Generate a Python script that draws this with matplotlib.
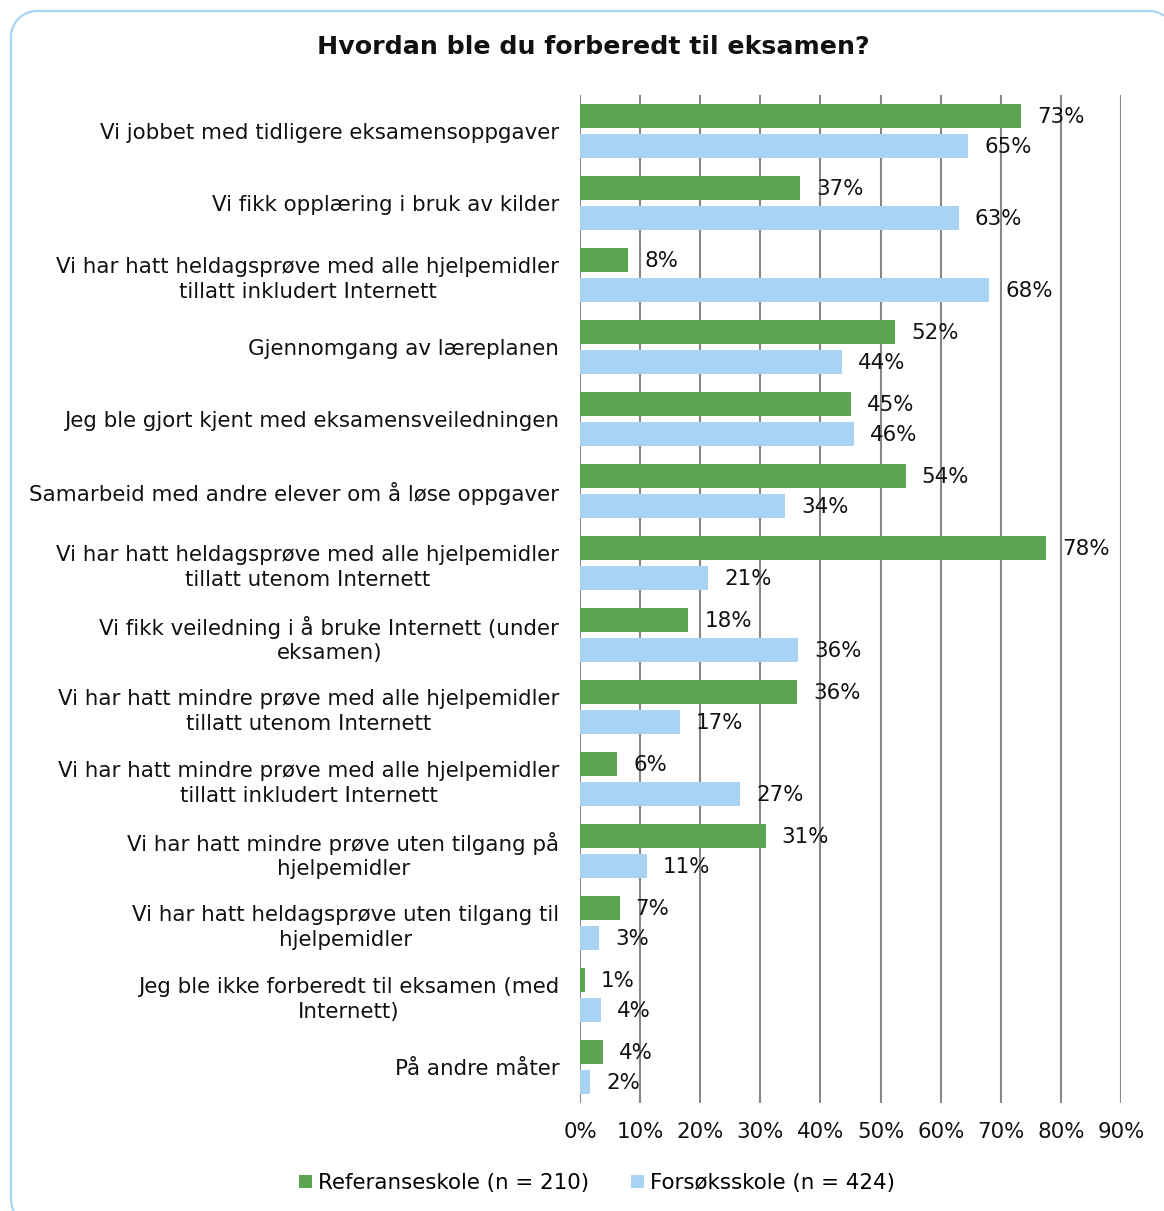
import matplotlib
matplotlib.use("Agg")
import matplotlib.pyplot as plt
import numpy as np
from matplotlib.patches import Patch
from matplotlib.lines import Line2D

plt.rcParams['font.family'] = ['DejaVu Sans']

categories = [
    "Vi jobbet med tidligere eksamensoppgaver",
    "Vi fikk opplæring i bruk av kilder",
    "Vi har hatt heldagsprøve med alle hjelpemidler\ntillatt inkludert Internett",
    "Gjennomgang av læreplanen",
    "Jeg ble gjort kjent med eksamensveiledningen",
    "Samarbeid med andre elever om å løse oppgaver",
    "Vi har hatt heldagsprøve med alle hjelpemidler\ntillatt utenom Internett",
    "Vi fikk veiledning i å bruke Internett (under\neksamen)",
    "Vi har hatt mindre prøve med alle hjelpemidler\ntillatt utenom Internett",
    "Vi har hatt mindre prøve med alle hjelpemidler\ntillatt inkludert Internett",
    "Vi har hatt mindre prøve uten tilgang på\nhjelpemidler",
    "Vi har hatt heldagsprøve uten tilgang til\nhjelpemidler",
    "Jeg ble ikke forberedt til eksamen (med\nInternett)",
    "På andre måter",
]
referanse = [73.4, 36.6, 8.0, 52.4, 45.1, 54.2, 77.5, 18.0, 36.1, 6.2, 30.9, 6.6, 0.8, 3.8]
forsok = [64.6, 63.0, 68.1, 43.6, 45.6, 34.1, 21.3, 36.3, 16.6, 26.6, 11.1, 3.2, 3.5, 1.7]
series_names = ["Referanseskole (n = 210)", "Forsøksskole (n = 424)"]
xticks = [0, 10, 20, 30, 40, 50, 60, 70, 80, 90]

green = "#5BA552"
blue = "#A9D3F2"
gridc = "#888888"

W, H = 1164, 1211
fig = plt.figure(figsize=(W/100, H/100), dpi=100)

# rounded frame (only the part that is visible inside the canvas), pixel coords, y down
R = 26
L, T = 11, 11
def arc(cx, cy, t0, t1, k=30):
    t = np.linspace(t0, t1, k)
    return cx + R*np.cos(t), cy + R*np.sin(t)
bx, by = arc(L + R, H - 12, np.pi - np.arcsin(12/R), np.pi)
tlx, tly = arc(L + R, T + R, np.pi, 1.5*np.pi)
trx, try_ = arc(1149, T + R, 1.5*np.pi, 2*np.pi - np.arccos((W - 1149)/R))
fx = np.concatenate([bx, tlx, trx])
fy = np.concatenate([by, tly, try_])
fig.add_artist(Line2D(fx, H - fy, transform=None, color="#A9D3F2", lw=1.6,
                      solid_capstyle="butt", solid_joinstyle="round"))

ax = fig.add_axes([580/W, 1 - 1103/H, (1121-580)/W, (1103-95)/H])

n = len(categories)
y = np.arange(n)
off = 15/72
h = 24/72
ax.barh(y - off, referanse, height=h, color=green, zorder=3, label=series_names[0])
ax.barh(y + off, forsok, height=h, color=blue, zorder=3, label=series_names[1])

fs = 15.4
for yi, v in zip(y - off, referanse):
    ax.annotate(f"{v:.0f}%", (v, yi), xytext=(16, -1), textcoords="offset pixels",
                ha="left", va="center", fontsize=fs, color="#111111", zorder=4)
for yi, v in zip(y + off, forsok):
    ax.annotate(f"{v:.0f}%", (v, yi), xytext=(16, -1), textcoords="offset pixels",
                ha="left", va="center", fontsize=fs, color="#111111", zorder=4)

ax.set_xlim(0, 90)
ax.set_ylim(n - 0.5, -0.5)
ax.set_xticks(xticks)
ax.set_xticklabels([f"{t}%" for t in xticks], fontsize=fs, color="#111111")
for t in xticks:
    ax.axvline(t, color=gridc, lw=1.5, zorder=1)
ax.set_yticks(y)
ax.set_yticklabels(categories, fontsize=fs, color="#111111", multialignment="center",
                   linespacing=1.3)
for lab in ax.get_yticklabels():
    if "\n" in lab.get_text():
        lab.set_y(lab.get_position()[1])
ax.tick_params(axis="y", length=0, pad=15)
ax.tick_params(axis="x", length=0, pad=14)
for s in ax.spines.values():
    s.set_visible(False)

fig.text(593/W, 1 - 47/H, "Hvordan ble du forberedt til eksamen?", ha="center", va="center",
         fontsize=18.2, fontweight="bold", color="#111111")

handles = [Patch(facecolor=green, label=series_names[0]), Patch(facecolor=blue, label=series_names[1])]
fig.legend(handles=handles, loc="center", bbox_to_anchor=(597/W, 1 - 1183/H), ncol=2,
           frameon=False, fontsize=fs, handlelength=0.6, handleheight=0.6,
           handletextpad=0.25, columnspacing=2.0)

fig.savefig("out.png", dpi=100)
